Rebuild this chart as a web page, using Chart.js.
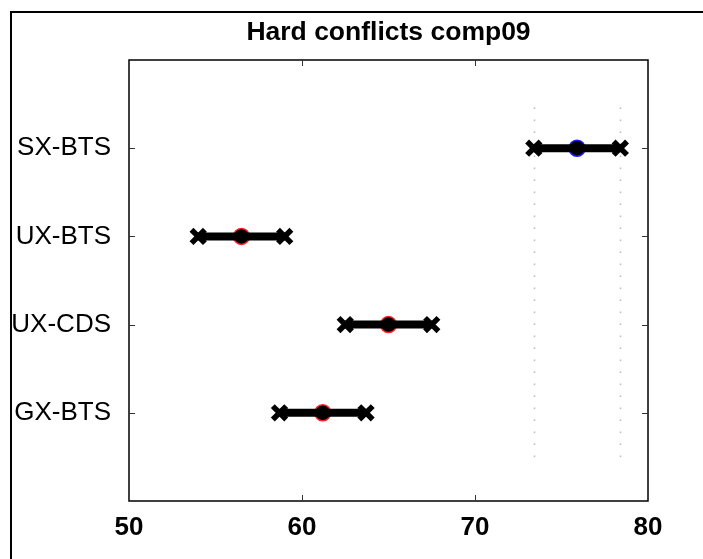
<!DOCTYPE html>
<html>
<head>
<meta charset="utf-8">
<script src="https://cdn.jsdelivr.net/npm/chart.js@4/dist/chart.umd.min.js"></script>
<style>
  html, body { margin: 0; padding: 0; background: #fff; }
  #wrap { width: 703px; height: 559px; }
</style>
</head>
<body>
<div id="wrap"><canvas id="grafico"></canvas></div>
<script>
// dados (de cima para baixo)
const categorias = ['SX-BTS', 'UX-BTS', 'UX-CDS', 'GX-BTS'];
const posicoes = [4, 3, 2, 1];
const medias = [75.9, 56.5, 65.0, 61.2];
const inferiores = [73.4, 54.0, 62.5, 58.7];
const superiores = [78.4, 59.0, 67.5, 63.7];
const coresMedia = ['#1a1aff', '#ff2020', '#ff2020', '#ff2020'];
const ticksX = [50, 60, 70, 80];
const titulo = 'Hard conflicts comp09';

const FONTE = '"Liberation Sans", Arial, sans-serif';

// moldura, caixa dos eixos, ticks internos e linhas pontilhadas
const molduraPlugin = {
    id: 'moldura',
    beforeDraw(chart) {
        const ctx = chart.ctx;
        ctx.save();
        ctx.fillStyle = '#fff';
        ctx.fillRect(0, 0, chart.width, chart.height);
        ctx.strokeStyle = '#000';
        ctx.lineWidth = 2;
        ctx.strokeRect(11, 12, 720, 580);
        ctx.restore();
    },
    beforeDatasetsDraw(chart) {
        const ctx = chart.ctx;
        const x = chart.scales.x, y = chart.scales.y;
        ctx.save();
        // linhas pontilhadas do grupo selecionado
        ctx.strokeStyle = '#b8b8b8';
        ctx.lineWidth = 1.5;
        ctx.setLineDash([1.5, 10.5]);
        [inferiores[0], superiores[0]].forEach(v => {
            const px = Math.round(x.getPixelForValue(v)) + 0.5;
            ctx.beginPath();
            ctx.moveTo(px, y.getPixelForValue(0.5));
            ctx.lineTo(px, y.getPixelForValue(4.5));
            ctx.stroke();
        });
        ctx.restore();
    },
    afterDatasetsDraw(chart) {
        const ctx = chart.ctx;
        const a = chart.chartArea;
        const x = chart.scales.x, y = chart.scales.y;
        ctx.save();
        ctx.strokeStyle = '#000';
        ctx.lineWidth = 1.5;
        ctx.strokeRect(a.left, a.top, a.right - a.left, a.bottom - a.top);
        ctx.strokeStyle = '#333';
        ctx.lineWidth = 1;
        const t = 6;
        ticksX.slice(1, -1).forEach(v => {
            const px = Math.round(x.getPixelForValue(v)) + 0.5;
            ctx.beginPath();
            ctx.moveTo(px, a.bottom); ctx.lineTo(px, a.bottom - t);
            ctx.moveTo(px, a.top); ctx.lineTo(px, a.top + t);
            ctx.stroke();
        });
        posicoes.forEach(v => {
            const py = Math.round(y.getPixelForValue(v)) + 0.5;
            ctx.beginPath();
            ctx.moveTo(a.left, py); ctx.lineTo(a.left + t, py);
            ctx.moveTo(a.right, py); ctx.lineTo(a.right - t, py);
            ctx.stroke();
        });
        // título
        ctx.fillStyle = '#000';
        ctx.font = 'bold 26.5px ' + FONTE;
        ctx.textAlign = 'center';
        ctx.textBaseline = 'middle';
        ctx.fillText(titulo, (a.left + a.right) / 2, 33);
        ctx.restore();
    }
};

const datasets = [];
categorias.forEach((cat, i) => {
    datasets.push({
        label: cat,
        data: [{ x: inferiores[i], y: posicoes[i] }, { x: superiores[i], y: posicoes[i] }],
        showLine: true,
        borderColor: '#000',
        borderWidth: 8,
        pointStyle: 'crossRot',
        pointRadius: 9.5,
        pointBorderWidth: 5.5,
        pointBorderColor: '#000',
        order: 2
    });
});
datasets.push({
    label: 'médias',
    data: medias.map((m, i) => ({ x: m, y: posicoes[i] })),
    showLine: false,
    pointStyle: 'circle',
    pointRadius: 8,
    pointBackgroundColor: '#000',
    pointBorderColor: coresMedia,
    pointBorderWidth: 1.5,
    order: 3
});

new Chart(document.getElementById('grafico'), {
    type: 'scatter',
    data: { datasets },
    options: {
        responsive: true,
        maintainAspectRatio: false,
        animation: false,
        layout: { padding: { left: 0, right: 55, top: 60, bottom: 0 } },
        plugins: { legend: { display: false }, tooltip: { enabled: false } },
        scales: {
            x: {
                type: 'linear',
                min: 50, max: 80,
                afterBuildTicks: s => { s.ticks = ticksX.map(v => ({ value: v })); },
                afterFit: s => { s.height = 58; },
                grid: { display: false },
                border: { display: false },
                ticks: {
                    color: '#000',
                    padding: 3,
                    font: { family: FONTE, size: 26, weight: 'bold' }
                }
            },
            y: {
                type: 'linear',
                min: 0, max: 5,
                afterBuildTicks: s => { s.ticks = posicoes.map(v => ({ value: v })); },
                afterFit: s => { s.width = 129; },
                grid: { display: false },
                border: { display: false },
                ticks: {
                    color: '#000',
                    padding: 10,
                    font: { family: FONTE, size: 26 },
                    callback: v => categorias[posicoes.indexOf(v)] || ''
                }
            }
        }
    },
    plugins: [molduraPlugin]
});
</script>
</body>
</html>
